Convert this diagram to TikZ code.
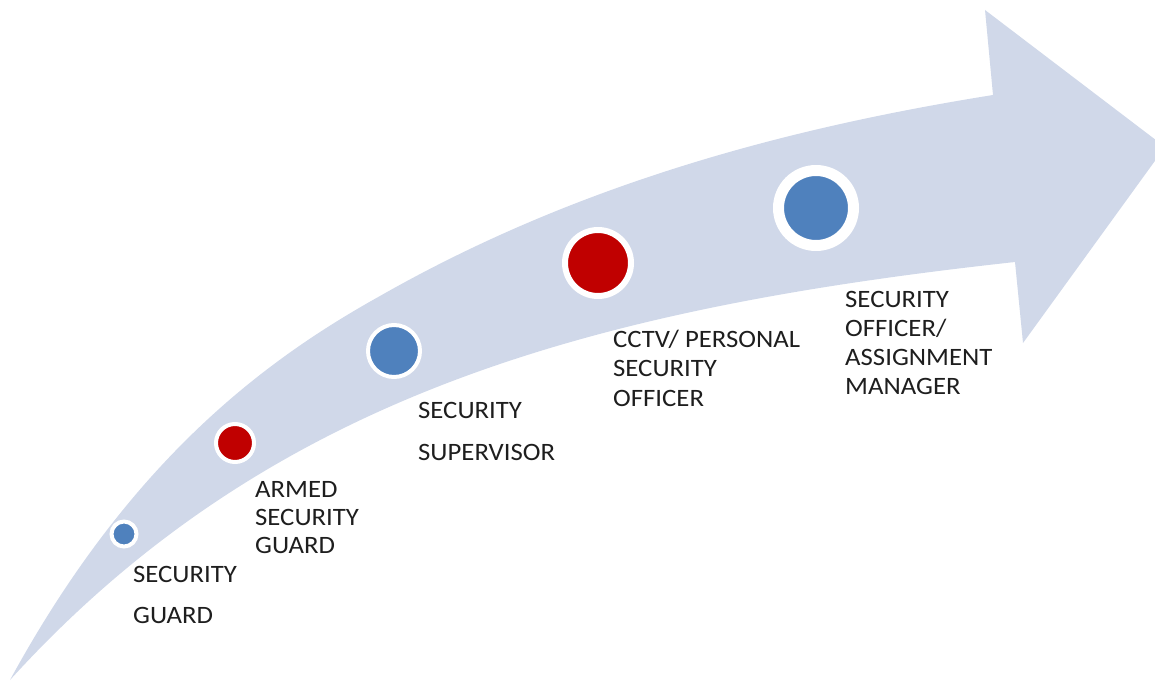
\documentclass[tikz,border=0pt]{standalone}
\usepackage{fontspec}
\setmainfont{Carlito}[FakeStretch=1.07]
\definecolor{arrowfill}{RGB}{208,216,233}
\definecolor{dotblue}{RGB}{79,129,189}
\definecolor{dotred}{RGB}{192,0,0}
\definecolor{txt}{RGB}{30,30,30}
\newcommand\labelstack[2]{\fontsize{25}{#1}\selectfont\begin{tabular}[t]{@{}l@{}}#2\end{tabular}}
\begin{document}
\begin{tikzpicture}[x=1pt,y=-1pt,
  dot/.style={circle, inner sep=0pt, draw=white},
  lbl/.style={anchor=base west, inner sep=0pt, text=txt}]
\useasboundingbox (0,0) rectangle (1155,682);
\clip (0,0) rectangle (1155,682);
% curved arrow
\fill[arrowfill]
  (10,680) .. controls (130,460) and (265,360) .. (380,296)
  .. controls (580,182) and (793,127) .. (993,95)
  -- (985,10) -- (1165,147) -- (1023,343) -- (1015,262)
  .. controls (595,308) and (270,394) .. (10,680)
  -- cycle;
% dots
\node[dot, fill=dotblue, minimum size=25pt, line width=4pt] (d1) at (124,534) {};
\node[dot, fill=dotred,  minimum size=38pt, line width=4pt] (d2) at (235,443) {};
\node[dot, fill=dotblue, minimum size=52pt, line width=4pt] (d3) at (394,351) {};
\node[dot, fill=dotred,  minimum size=66pt, line width=6pt] (d4) at (598,263) {};
\node[dot, fill=dotblue, minimum size=75pt, line width=11pt] (d5) at (816,208) {};
% labels
\node[lbl] (l1) at (133,582) {\labelstack{41}{SECURITY\\GUARD}};
\node[lbl] (l2) at (255,497) {\labelstack{28}{ARMED\\SECURITY\\GUARD}};
\node[lbl] (l3) at (418,418) {\labelstack{42}{SECURITY\\SUPERVISOR}};
\node[lbl] (l4) at (613,347) {\labelstack{29.5}{CCTV/ PERSONAL\\SECURITY\\OFFICER}};
\node[lbl] (l5) at (845,307) {\labelstack{29.3}{SECURITY\\OFFICER/\\ASSIGNMENT\\MANAGER}};
\end{tikzpicture}
\end{document}
